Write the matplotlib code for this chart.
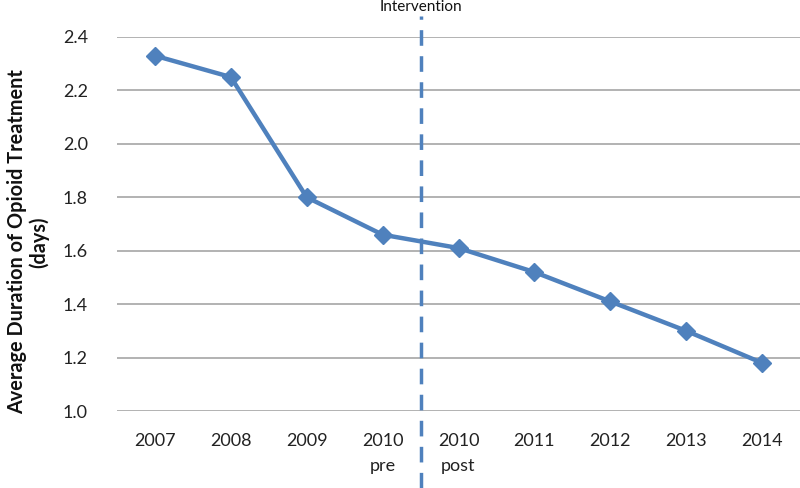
import matplotlib
matplotlib.use("Agg")
import matplotlib.pyplot as plt
from matplotlib.lines import Line2D
import matplotlib.transforms as mtransforms

categories = ["2007", "2008", "2009", "2010\npre", "2010\npost", "2011", "2012", "2013", "2014"]
values = [2.33, 2.25, 1.80, 1.66, 1.61, 1.52, 1.41, 1.30, 1.18]
yticks = [1.0, 1.2, 1.4, 1.6, 1.8, 2.0, 2.2, 2.4]
ylabel_lines = ["Average Duration of Opioid Treatment", "(days)"]

plt.rcParams['font.family'] = ['Lato', 'DejaVu Sans']
color = "#4F81BD"

fig = plt.figure(figsize=(8, 4.88), dpi=100)
ax = fig.add_axes([117/800, 1 - 411/488, (800 - 117)/800, (411 - 37)/488])

x = list(range(len(categories)))
ax.plot(x, values, color=color, lw=3.2, marker='D', ms=9.5, clip_on=False, zorder=3)

ax.set_xlim(-0.5, len(categories) - 0.5)
ax.set_ylim(1.0, 2.4)
ax.set_yticks(yticks)
ax.set_yticklabels([f"{v:.1f}" for v in yticks], fontsize=13, color="#222222")
ax.set_xticks(x)
ax.set_xticklabels(categories, fontsize=13, color="#222222", linespacing=1.7)
ax.tick_params(axis='both', length=0)
ax.tick_params(axis='x', pad=16)
ax.tick_params(axis='y', pad=21)
ax.yaxis.grid(True, color="#A6A6A6", lw=1.2)
ax.set_axisbelow(True)
for s in ax.spines.values():
    s.set_visible(False)

for xpos, line in zip([17, 39], ylabel_lines):
    fig.text(xpos/800, 1 - 242/488, line, rotation=90, ha='center', va='center',
             fontsize=14.3, fontweight='bold', color="#111111")

trans = mtransforms.blended_transform_factory(ax.transData, fig.transFigure)
vline = Line2D([3.5, 3.5], [0.0, 1 - 16/488], transform=trans, color=color,
               lw=2.5, dashes=(4.5, 3))
fig.add_artist(vline)
fig.text(421/800, 1 - 7/488, "Intervention", ha='center', va='center',
         fontsize=11, color="#111111")

fig.savefig("out.png", dpi=100)
